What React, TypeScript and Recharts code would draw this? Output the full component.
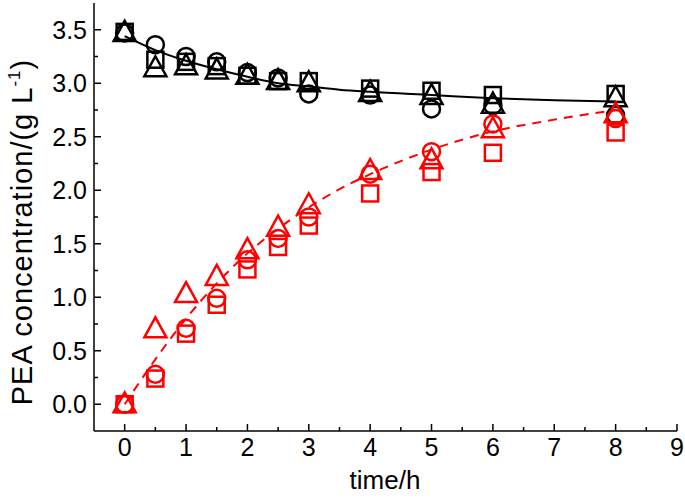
import { ComposedChart, XAxis, YAxis, Line, Scatter } from 'recharts'

const time = [0, 0.5, 1, 1.5, 2, 2.5, 3, 4, 5, 6, 8]

const blackSquare = [3.48, 3.22, 3.2, 3.16, 3.07, 3.02, 3.02, 2.95, 2.93, 2.89, 2.9]
const blackCircle = [3.47, 3.36, 3.25, 3.2, 3.1, 3.05, 2.9, 2.89, 2.76, 2.79, 2.7]
const blackTriangle = [3.47, 3.14, 3.16, 3.12, 3.07, 3.02, 3.0, 2.91, 2.88, 2.8, 2.86]

const redSquare = [0.0, 0.24, 0.66, 0.93, 1.26, 1.47, 1.67, 1.97, 2.17, 2.35, 2.54]
const redCircle = [0.0, 0.28, 0.71, 0.99, 1.35, 1.55, 1.75, 2.15, 2.36, 2.62, 2.67]
const redTriangle = [0.0, 0.7, 1.03, 1.19, 1.44, 1.65, 1.86, 2.18, 2.28, 2.57, 2.71]

const fitTime = [0, 0.5, 1, 1.5, 2, 2.5, 3, 3.5, 4, 5, 6, 7, 8]
const blackFit = [3.44, 3.31, 3.21, 3.13, 3.06, 3.0, 2.97, 2.94, 2.92, 2.89, 2.86, 2.84, 2.83]
const redFit = [0, 0.42, 0.8, 1.13, 1.41, 1.64, 1.84, 2.01, 2.15, 2.38, 2.55, 2.66, 2.75]

const xTicks = [0, 0.5, 1, 1.5, 2, 2.5, 3, 3.5, 4, 4.5, 5, 5.5, 6, 6.5, 7, 7.5, 8, 8.5, 9]
const yTicks = [0, 0.25, 0.5, 0.75, 1, 1.25, 1.5, 1.75, 2, 2.25, 2.5, 2.75, 3, 3.25, 3.5]

const pts = (xs: number[], ys: number[]) => xs.map((t, i) => ({ t, v: ys[i] }))

const FONT = '"Liberation Sans", Arial, sans-serif'

const isMajorX = (v: number) => Number.isInteger(v)
const isMajorY = (v: number) => Math.abs(v * 2 - Math.round(v * 2)) < 1e-6

const XTick = (props: any) => {
	const { x, y, payload, top } = props
	const major = isMajorX(payload.value)
	const len = major ? 7 : 4
	return (
		<g>
			<line x1={x} x2={x} y1={y} y2={top ? y + len : y - len} stroke="#000" strokeWidth={1.5} />
			{!top && major && (
				<text x={x} y={y + 25} textAnchor="middle" fontFamily={FONT} fontSize={25} fill="#000">
					{payload.value}
				</text>
			)}
		</g>
	)
}

const YTick = (props: any) => {
	const { x, y, payload, right } = props
	const major = isMajorY(payload.value)
	const len = major ? 7 : 4
	return (
		<g>
			<line x1={x} x2={right ? x - len : x + len} y1={y} y2={y} stroke="#000" strokeWidth={1.5} />
			{!right && major && (
				<text x={x - 7} y={y + 9} textAnchor="end" fontFamily={FONT} fontSize={25} fill="#000">
					{payload.value.toFixed(1)}
				</text>
			)}
		</g>
	)
}

const square = (color: string) => (p: any) => (
	<rect x={p.cx - 8} y={p.cy - 8} width={16} height={16} fill="none" stroke={color} strokeWidth={2.5} />
)
const circle = (color: string) => (p: any) => (
	<circle cx={p.cx} cy={p.cy} r={8.5} fill="none" stroke={color} strokeWidth={2.5} />
)
const triangle = (color: string) => (p: any) => (
	<polygon
		points={`${p.cx},${p.cy - 12} ${p.cx + 11},${p.cy + 8} ${p.cx - 11},${p.cy + 8}`}
		fill="none"
		stroke={color}
		strokeWidth={2.5}
	/>
)

export default function App() {
	return (
		<div style={{ position: 'absolute', left: 0, top: 0, width: 685, height: 499, background: '#fff' }}>
			<ComposedChart width={685} height={499} margin={{ top: 3, right: 8, bottom: 0, left: 0 }}>
				<XAxis
					xAxisId="b"
					dataKey="t"
					type="number"
					domain={[-0.5, 9]}
					ticks={xTicks}
					interval={0}
					height={68}
					tickSize={0}
					tickMargin={0}
					tickLine={false}
					axisLine={{ stroke: '#000', strokeWidth: 1.5 }}
					tick={<XTick />}
					label={{
						content: () => (
							<text x={385} y={489} textAnchor="middle" fontFamily={FONT} fontSize={26} fill="#000">
								time/h
							</text>
						),
					}}
				/>
				<XAxis
					xAxisId="t"
					orientation="top"
					dataKey="t"
					type="number"
					domain={[-0.5, 9]}
					ticks={xTicks}
					interval={0}
					height={0}
					tickSize={0}
					tickMargin={0}
					tickLine={false}
					axisLine={{ stroke: '#000', strokeWidth: 1.5 }}
					tick={<XTick top />}
				/>
				<YAxis
					yAxisId="l"
					type="number"
					domain={[-0.25, 3.75]}
					ticks={yTicks}
					interval={0}
					width={94}
					tickSize={0}
					tickMargin={0}
					tickLine={false}
					axisLine={{ stroke: '#000', strokeWidth: 1.5 }}
					tick={<YTick />}
					label={{
						content: () => (
							<text
								x={0}
								y={0}
								transform="translate(32,232) rotate(-90)"
								textAnchor="middle"
								fontFamily={FONT}
								fontSize={29}
								letterSpacing={1}
								fill="#000"
							>
								PEA concentration/(g L
								<tspan fontSize={17} dy={-12}>-1</tspan>
								<tspan dy={12}>)</tspan>
							</text>
						),
					}}
				/>
				<YAxis
					yAxisId="r"
					orientation="right"
					type="number"
					domain={[-0.25, 3.75]}
					ticks={yTicks}
					interval={0}
					width={0}
					tickSize={0}
					tickMargin={0}
					tickLine={false}
					axisLine={{ stroke: '#000', strokeWidth: 1.5 }}
					tick={<YTick right />}
				/>

				<Line
					xAxisId="b"
					yAxisId="l"
					data={pts(fitTime, blackFit)}
					dataKey="v"
					type="monotone"
					stroke="#000"
					strokeWidth={2}
					dot={false}
					isAnimationActive={false}
				/>
				<Line
					xAxisId="b"
					yAxisId="l"
					data={pts(fitTime, redFit)}
					dataKey="v"
					type="monotone"
					stroke="#ff0000"
					strokeWidth={2}
					strokeDasharray="9 7"
					dot={false}
					isAnimationActive={false}
				/>

				<Scatter xAxisId="b" yAxisId="l" data={pts(time, blackSquare)} dataKey="v" shape={square('#000')} isAnimationActive={false} />
				<Scatter xAxisId="b" yAxisId="l" data={pts(time, blackCircle)} dataKey="v" shape={circle('#000')} isAnimationActive={false} />
				<Scatter xAxisId="b" yAxisId="l" data={pts(time, blackTriangle)} dataKey="v" shape={triangle('#000')} isAnimationActive={false} />
				<Scatter xAxisId="b" yAxisId="l" data={pts(time, redSquare)} dataKey="v" shape={square('#ff0000')} isAnimationActive={false} />
				<Scatter xAxisId="b" yAxisId="l" data={pts(time, redCircle)} dataKey="v" shape={circle('#ff0000')} isAnimationActive={false} />
				<Scatter xAxisId="b" yAxisId="l" data={pts(time, redTriangle)} dataKey="v" shape={triangle('#ff0000')} isAnimationActive={false} />
			</ComposedChart>
		</div>
	)
}
